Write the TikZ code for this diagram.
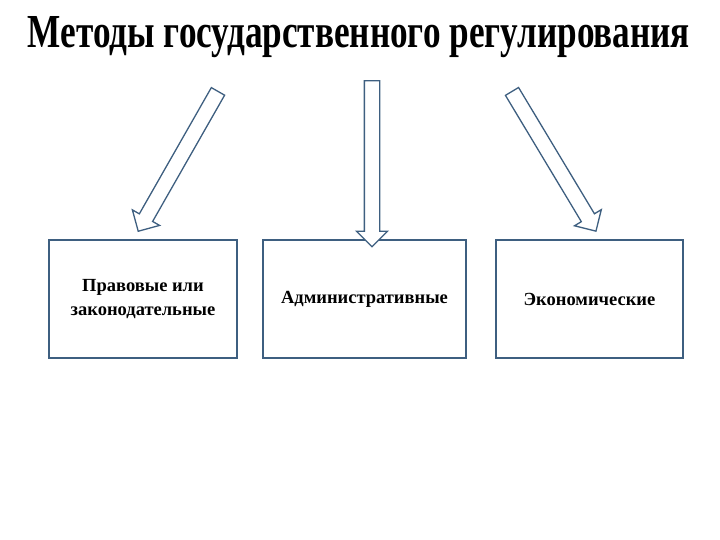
\documentclass[tikz,border=0pt]{standalone}
\usepackage{fontspec}
\usepackage{graphicx}
\setmainfont{Liberation Serif}
\usetikzlibrary{shapes.arrows}
\definecolor{bx}{HTML}{3E5F80}
\begin{document}
\begin{tikzpicture}[x=1pt,y=-1pt,
  box/.style={draw=bx,line width=1.3pt,minimum width=#1,minimum height=118pt,inner sep=2pt,align=center,font=\fontsize{18.5}{24}\selectfont\bfseries},
  blk/.style={single arrow,draw=bx,fill=white,line width=1.3pt,inner xsep=0pt,inner ysep=7pt,single arrow head extend=8pt,single arrow head indent=0pt,minimum height=#1}]
\useasboundingbox (0,0) rectangle (720,540);
\node (t) at (359,37) {\resizebox{662pt}{31pt}{\bfseries Методы государственного регулирования}};
\node[box=188pt] (b1) at (143,299) {Правовые или\\законодательные};
\node[box=203pt] (b2) at (364.5,299) {Административные};
\node[box=187pt] (b3) at (589.5,299) {Экономические};
\node[blk=161pt,rotate=240.3] (a1) at (180,158) {};
\node[blk=166pt,rotate=-90] (a2) at (372,160) {};
\node[blk=163pt,rotate=-59] (a3) at (552,158) {};
\end{tikzpicture}
\end{document}
